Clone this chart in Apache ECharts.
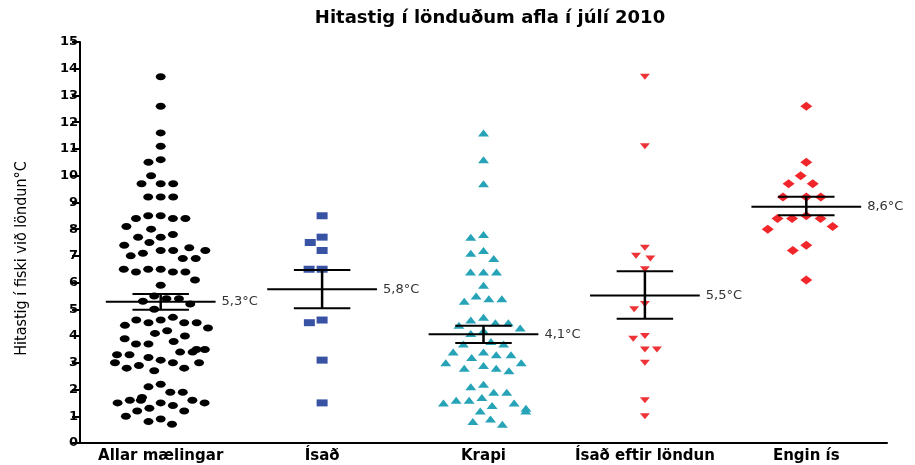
<!DOCTYPE html>
<html>
<head>
<meta charset="utf-8">
<script src="https://cdn.jsdelivr.net/npm/echarts@6/dist/echarts.min.js"></script>
<style>
  html, body { margin: 0; padding: 0; background: #fff; }
  #chart { width: 915px; height: 465px; }
</style>
</head>
<body>
<div id="chart"></div>
<script>
var myChart = echarts.init(document.getElementById('chart'));

// flokkar
var categories = ['Allar mælingar', 'Ísað', 'Krapi', 'Ísað eftir löndun', 'Engin ís'];

// mælingar lesnar af myndinni (°C)
var isad = [8.5, 7.7, 7.5, 7.2, 6.5, 6.5, 4.6, 4.5, 3.1, 1.5];
var krapi = [11.6, 10.6, 9.7, 7.8, 7.7, 7.2, 7.1, 6.9, 6.4, 6.4, 6.4, 5.9, 5.5, 5.4, 5.4, 5.3,
    4.7, 4.6, 4.5, 4.5, 4.4, 4.3, 4.2, 4.1, 3.8, 3.7, 3.7, 3.4, 3.4, 3.3, 3.3, 3.2, 3.0, 3.0,
    2.9, 2.8, 2.8, 2.7, 2.2, 2.1, 1.9, 1.9, 1.7, 1.6, 1.6, 1.5, 1.5, 1.4, 1.3, 1.2, 1.2, 0.9, 0.8, 0.7];
var eftirLondun = [13.7, 11.1, 7.3, 7.0, 6.9, 6.5, 5.2, 5.0, 4.0, 3.9, 3.5, 3.5, 3.0, 1.6, 1.0];
var enginIs = [12.6, 10.5, 10.0, 9.7, 9.7, 9.2, 9.2, 9.2, 8.5, 8.4, 8.4, 8.4, 8.1, 8.0, 7.4, 7.2, 6.1];
// allar mælingar = allir hóparnir saman
var allar = [].concat(isad, krapi, eftirLondun, enginIs);

// meðaltal og skekkjumörk (lesið af myndinni)
var means = [5.28, 5.75, 4.07, 5.52, 8.84];
var semHigh = [5.57, 6.47, 4.39, 6.42, 9.21];
var semLow = [4.98, 5.04, 3.74, 4.65, 8.52];
var meanLabels = ['5,3°C', '5,8°C', '4,1°C', '5,5°C', '8,6°C'];

var yTicks = [0, 15, 1]; // min, max, interval

function toPoints(cat, arr) {
    return arr.map(function (v) { return [cat, v]; });
}

var groups = [
    { data: allar, symbol: 'circle', size: [10, 7], color: '#000000' },
    { data: isad, symbol: 'rect', size: [11, 7], color: '#3953a4' },
    { data: krapi, symbol: 'triangle', size: [11, 7], color: '#26a3b7' },
    { data: eftirLondun, symbol: 'triangle', size: [10, 6], color: '#ee3338', rotate: 180 },
    { data: enginIs, symbol: 'diamond', size: [12, 9], color: '#f0262b' }
];

var series = groups.map(function (g, i) {
    return {
        type: 'scatter',
        name: categories[i],
        symbol: g.symbol,
        symbolSize: g.size,
        symbolRotate: g.rotate || 0,
        itemStyle: { color: g.color, opacity: 1 },
        data: toPoints(categories[i], g.data),
        z: 2
    };
});

var errData = categories.map(function (c, i) {
    return [i, means[i], semLow[i], semHigh[i]];
});

series.push({
    type: 'custom',
    z: 5,
    data: errData,
    renderItem: function (params, api) {
        var idx = api.value(0);
        var m = api.coord([idx, api.value(1)]);
        var lo = api.coord([idx, api.value(2)]);
        var hi = api.coord([idx, api.value(3)]);
        var band = api.size([1, 0])[0];
        var mw = band * 0.34, cw = band * 0.175;
        var st = { stroke: '#000', lineWidth: 2 };
        return {
            type: 'group',
            children: [
                { type: 'line', shape: { x1: m[0] - mw, y1: m[1], x2: m[0] + mw, y2: m[1] }, style: st },
                { type: 'line', shape: { x1: m[0] - cw, y1: hi[1], x2: m[0] + cw, y2: hi[1] }, style: st },
                { type: 'line', shape: { x1: m[0] - cw, y1: lo[1], x2: m[0] + cw, y2: lo[1] }, style: st },
                { type: 'line', shape: { x1: m[0], y1: hi[1], x2: m[0], y2: lo[1] }, style: { stroke: '#000', lineWidth: 2.5 } },
                {
                    type: 'text',
                    style: {
                        x: m[0] + mw + 6, y: m[1],
                        text: meanLabels[idx],
                        fill: '#333',
                        font: '13px "DejaVu Sans"',
                        verticalAlign: 'middle', align: 'left'
                    }
                }
            ]
        };
    }
});

var option = {
    animation: false,
    title: {
        text: 'Hitastig í lönduðum afla í júlí 2010',
        left: 485, top: 4, textAlign: 'center',
        textStyle: { fontFamily: 'DejaVu Sans', fontWeight: 'bold', fontSize: 18, color: '#000' }
    },
    grid: { left: 80, right: 28, top: 42, bottom: 22 },
    xAxis: {
        type: 'category',
        data: categories,
        jitter: 100,
        jitterOverlap: false,
        jitterMargin: 4,
        axisLine: { lineStyle: { color: '#000', width: 2 } },
        axisTick: { alignWithLabel: true, length: 5, lineStyle: { color: '#000', width: 2 } },
        axisLabel: {
            interval: 0, margin: 6, color: '#000',
            fontFamily: 'DejaVu Sans', fontWeight: 'bold', fontSize: 15
        },
        splitLine: { show: false }
    },
    yAxis: {
        type: 'value',
        min: yTicks[0], max: yTicks[1], interval: yTicks[2],
        name: 'Hitastig í fiski við löndun°C',
        nameLocation: 'middle',
        nameGap: 50,
        nameTextStyle: {
            fontFamily: '"Liberation Sans Narrow", "DejaVu Sans Condensed", sans-serif',
            fontSize: 16, color: '#000', padding: [0, 32, 0, 0]
        },
        axisLine: { show: true, lineStyle: { color: '#000', width: 2 } },
        axisTick: { show: true, length: 8, lineStyle: { color: '#000', width: 2 } },
        axisLabel: { margin: 2, color: '#000', fontFamily: 'DejaVu Sans', fontWeight: 'bold', fontSize: 13 },
        splitLine: { show: false }
    },
    series: series
};

myChart.setOption(option);
</script>
</body>
</html>
